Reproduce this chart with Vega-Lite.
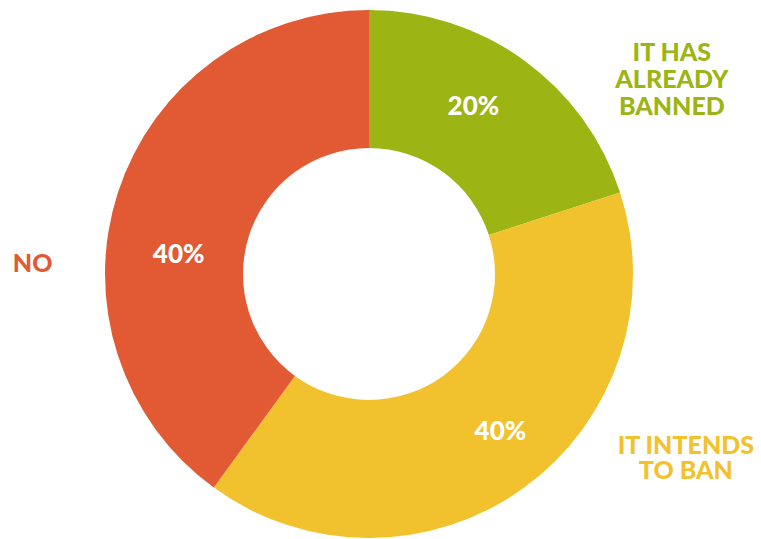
{
  "$schema": "https://vega.github.io/schema/vega-lite/v6.json",
  "autosize": "none",
  "width": 738,
  "height": 530,
  "padding": {"left": 0, "top": 9, "right": 23, "bottom": 0},
  "background": "white",
  "view": {"stroke": null},
  "data": {
    "values": [
      {"idx": 1, "category": "IT HAS ALREADY BANNED", "value": 20, "pct": "20%", "label": "IT HAS\nALREADY\nBANNED"},
      {"idx": 2, "category": "IT INTENDS TO BAN", "value": 40, "pct": "40%", "label": "IT INTENDS\nTO BAN"},
      {"idx": 3, "category": "NO", "value": 40, "pct": "40%", "label": "NO"}
    ]
  },
  "transform": [
    {"stack": "value", "groupby": [], "sort": [{"field": "idx", "order": "ascending"}], "as": ["v0", "v1"]},
    {"calculate": "(datum.v0 + datum.v1) / 2", "as": "mid"}
  ],
  "encoding": {
    "color": {
      "field": "category",
      "type": "nominal",
      "scale": {"domain": ["IT HAS ALREADY BANNED", "IT INTENDS TO BAN", "NO"], "range": ["#9cb414", "#f2c12e", "#e25a34"]},
      "legend": null
    }
  },
  "layer": [
    {
      "mark": {"type": "arc", "outerRadius": 264, "innerRadius": 126, "stroke": null},
      "encoding": {
        "theta": {"field": "v0", "type": "quantitative", "stack": null, "scale": {"domain": [0, 100]}},
        "theta2": {"field": "v1"}
      }
    },
    {
      "transform": [{"filter": "datum.idx == 1"}],
      "mark": {"type": "text", "radius": 198, "dx": -12, "dy": -7, "font": "Lato", "fontWeight": 900, "fontSize": 26},
      "encoding": {
        "theta": {"field": "mid", "type": "quantitative", "stack": null, "scale": {"domain": [0, 100]}},
        "text": {"field": "pct"}, "color": {"value": "white"}
      }
    },
    {
      "transform": [{"filter": "datum.idx == 2"}],
      "mark": {"type": "text", "radius": 198, "dx": 15, "dy": -2, "font": "Lato", "fontWeight": 900, "fontSize": 26},
      "encoding": {
        "theta": {"field": "mid", "type": "quantitative", "stack": null, "scale": {"domain": [0, 100]}},
        "text": {"field": "pct"}, "color": {"value": "white"}
      }
    },
    {
      "transform": [{"filter": "datum.idx == 3"}],
      "mark": {"type": "text", "radius": 198, "dx": -2, "dy": 42, "font": "Lato", "fontWeight": 900, "fontSize": 26},
      "encoding": {
        "theta": {"field": "mid", "type": "quantitative", "stack": null, "scale": {"domain": [0, 100]}},
        "text": {"field": "pct"}, "color": {"value": "white"}
      }
    },
    {
      "transform": [{"filter": "datum.idx == 1"}],
      "mark": {"type": "text", "radius": 340, "dx": 103, "dy": 54, "font": "Lato", "fontWeight": 900, "fontSize": 25, "lineBreak": "\n", "lineHeight": 27, "align": "center", "baseline": "middle"},
      "encoding": {
        "theta": {"field": "mid", "type": "quantitative", "stack": null, "scale": {"domain": [0, 100]}},
        "text": {"field": "label"}
      }
    },
    {
      "transform": [{"filter": "datum.idx == 2"}],
      "mark": {"type": "text", "radius": 340, "dx": 117, "dy": -103, "font": "Lato", "fontWeight": 900, "fontSize": 25, "lineBreak": "\n", "lineHeight": 25, "align": "center", "baseline": "middle"},
      "encoding": {
        "theta": {"field": "mid", "type": "quantitative", "stack": null, "scale": {"domain": [0, 100]}},
        "text": {"field": "label"}
      }
    },
    {
      "transform": [{"filter": "datum.idx == 3"}],
      "mark": {"type": "text", "radius": 340, "dx": -13, "dy": 95, "font": "Lato", "fontWeight": 900, "fontSize": 25, "align": "center", "baseline": "middle"},
      "encoding": {
        "theta": {"field": "mid", "type": "quantitative", "stack": null, "scale": {"domain": [0, 100]}},
        "text": {"field": "label"}
      }
    }
  ]
}
